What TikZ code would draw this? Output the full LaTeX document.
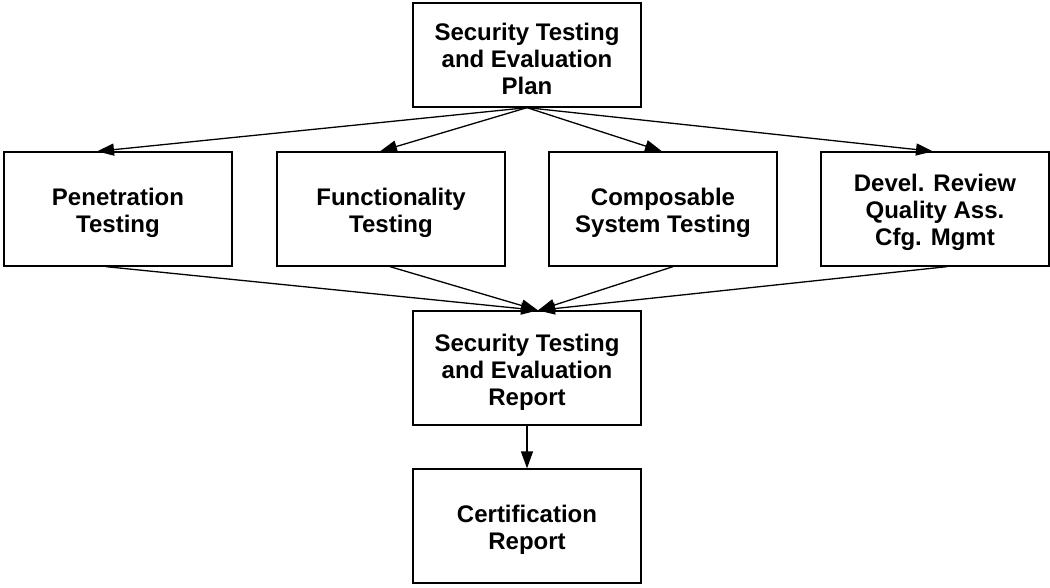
\documentclass[tikz,border=0pt]{standalone}
\usepackage{fontspec}
\setmainfont{Liberation Sans}
\usetikzlibrary{arrows.meta}
% extra height on a first line, so the lines sit a little lower in their box
\newcommand{\padtop}{\rule{0pt}{25pt}}
\begin{document}
\begin{tikzpicture}[x=1pt,y=-1pt,
  box/.style={draw, line width=1.3pt, rectangle, inner sep=0pt, align=center,
    minimum width=228pt, font=\fontsize{24}{27}\selectfont\bfseries},
  tallbox/.style={box, minimum height=114pt},
  shortbox/.style={box, minimum height=104pt},
  flow/.style={line width=1.3pt, -{Triangle[length=17pt,width=12pt]}}]
\useasboundingbox (0,0) rectangle (1050,587);

% top plan
\node[shortbox] (plan) at (527,55) {\padtop Security Testing\\and Evaluation\\Plan};

% four testing activities
\node[tallbox] (pen)  at (118,209) {\padtop Penetration\\Testing};
\node[tallbox] (func) at (391,209) {\padtop Functionality\\Testing};
\node[tallbox] (comp) at (663,209) {\padtop Composable\\System Testing};
\node[tallbox] (dev)  at (935,209) {\padtop Devel. Review\\Quality Ass.\\Cfg. Mgmt};

% report and certification
\node[tallbox] (rep)  at (527,368) {\padtop Security Testing\\and Evaluation\\Report};
\node[tallbox] (cert) at (527,526) {\padtop Certification\\Report};

% plan fans out to the activities
\draw[flow] (plan.south) -- ([xshift=-21pt]pen.north);
\draw[flow] (plan.south) -- ([xshift=-11pt]func.north);
\draw[flow] (plan.south) -- ([xshift=-1pt]comp.north);
\draw[flow] (plan.south) -- ([xshift=-2pt]dev.north);

% activities feed the report
\coordinate (join) at ([xshift=11pt]rep.north);
\draw[flow] ([xshift=-12pt]pen.south) -- (join);
\draw[flow] ([xshift=-1pt]func.south) -- (join);
\draw[flow] ([xshift=10pt]comp.south) -- (join);
\draw[flow] ([xshift=12pt]dev.south) -- (join);

% report leads to certification
\draw[flow] (rep.south) -- (cert.north);
\end{tikzpicture}
\end{document}
